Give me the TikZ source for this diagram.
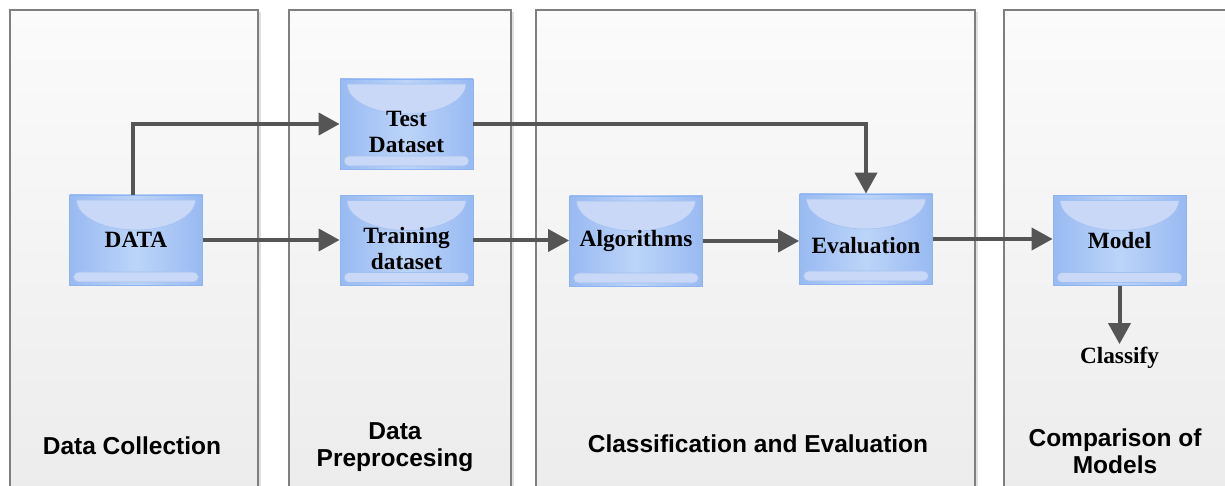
\documentclass[tikz,border=0pt]{standalone}
\usepackage{fontspec}
\setmainfont{Liberation Serif}
\setsansfont{Liberation Sans}
\usetikzlibrary{arrows.meta,calc}
\definecolor{panelline}{HTML}{7F7F7F}
\definecolor{paneltop}{HTML}{FBFBFB}
\definecolor{panelbottom}{HTML}{ECECEC}
\definecolor{boxedge}{HTML}{8DB3F0}
\definecolor{boxside}{HTML}{98BAF2}
\definecolor{boxmid}{HTML}{BCD4F8}
\definecolor{bowlfill}{HTML}{C8D8F6}
\definecolor{bowlline}{HTML}{A3C0F2}
\definecolor{arrowgray}{HTML}{555555}
\tikzset{
  panel/.style={draw=panelline, line width=1.5pt, top color=paneltop, bottom color=panelbottom},
  panelshadow/.style={fill=black!12},
  stagebox/.style={minimum width=133pt, minimum height=90pt, inner sep=0pt,
    draw=boxedge, line width=0.8pt,
    left color=boxside, right color=boxside, middle color=boxmid,
    path picture={
      \fill[bowlfill, draw=bowlline, line width=0.6pt]
        ([xshift=7pt,yshift=-5pt]path picture bounding box.north west)
        arc[start angle=180, end angle=360, x radius=59.5pt, y radius=30pt] -- cycle;
      \fill[bowlfill, draw=bowlline, line width=0.6pt, rounded corners=5pt]
        ([xshift=4pt,yshift=3pt]path picture bounding box.south west) rectangle
        ([xshift=-4pt,yshift=13pt]path picture bounding box.south east);
    }},
  boxtext/.style={font=\fontsize{23.3}{26}\selectfont\bfseries, align=center, inner sep=0pt},
  paneltext/.style={font=\sffamily\bfseries\fontsize{24.5}{27}\selectfont, align=center, inner sep=0pt},
  flow/.style={draw=arrowgray, line width=4pt, -{Triangle[length=21pt,width=22pt]}},
}
\begin{document}
\begin{tikzpicture}[x=1pt, y=1pt]
  \fill[white] (0,0) rectangle (1225,485);
  \useasboundingbox (0,0) rectangle (1225,485);

  % stage panels
  \foreach \l/\r in {10/258, 289/511, 536/975, 1004/1240} {
    \fill[panelshadow] (\l+2,-10) rectangle (\r+3,473);
    \path[panel] (\l,-10) rectangle (\r,475);
  }
  \node[paneltext] (lblcollect) at (132,39) {Data Collection};
  \node[paneltext] (lblprep) at (395,38) {Data\\Preprocesing};
  \node[paneltext] (lblclass) at (758,41) {Classification and Evaluation};
  \node[paneltext] (lblcompare) at (1115,34) {Comparison of\\Models};

  % process boxes
  \node[stagebox] (data) at (136,245) {};
  \node[stagebox] (test) at (406.5,361) {};
  \node[stagebox] (train) at (406.5,244.5) {};
  \node[stagebox] (algo) at (636,244) {};
  \node[stagebox] (eval) at (866,246) {};
  \node[stagebox] (model) at (1119.5,244.5) {};

  \node[boxtext] (tdata) at (data.center) {DATA};
  \node[boxtext] (ttest) at ($(test.center)+(0,-8)$) {Test\\Dataset};
  \node[boxtext] (ttrain) at ($(train.center)+(0,-8)$) {Training\\dataset};
  \node[boxtext] (talgo) at (algo.center) {Algorithms};
  \node[boxtext] (teval) at ($(eval.center)+(0,-7)$) {Evaluation};
  \node[boxtext] (tmodel) at (model.center) {Model};
  \node[boxtext, inner sep=3pt] (classify) at (1119.5,127) {Classify};

  % flow connectors
  \draw[flow] ([xshift=-3pt]data.north) |- (test.west);
  \draw[flow] (data.east) -- (data.east -| train.west);
  \draw[flow] (train.east) -- (train.east -| algo.west);
  \draw[flow] (test.east) -| (eval.north);
  \draw[flow] (algo.east) -- (algo.east -| eval.west);
  \draw[flow] (eval.east) -- (eval.east -| model.west);
  \draw[flow] (model.south) -- (classify.north);
\end{tikzpicture}
\end{document}
